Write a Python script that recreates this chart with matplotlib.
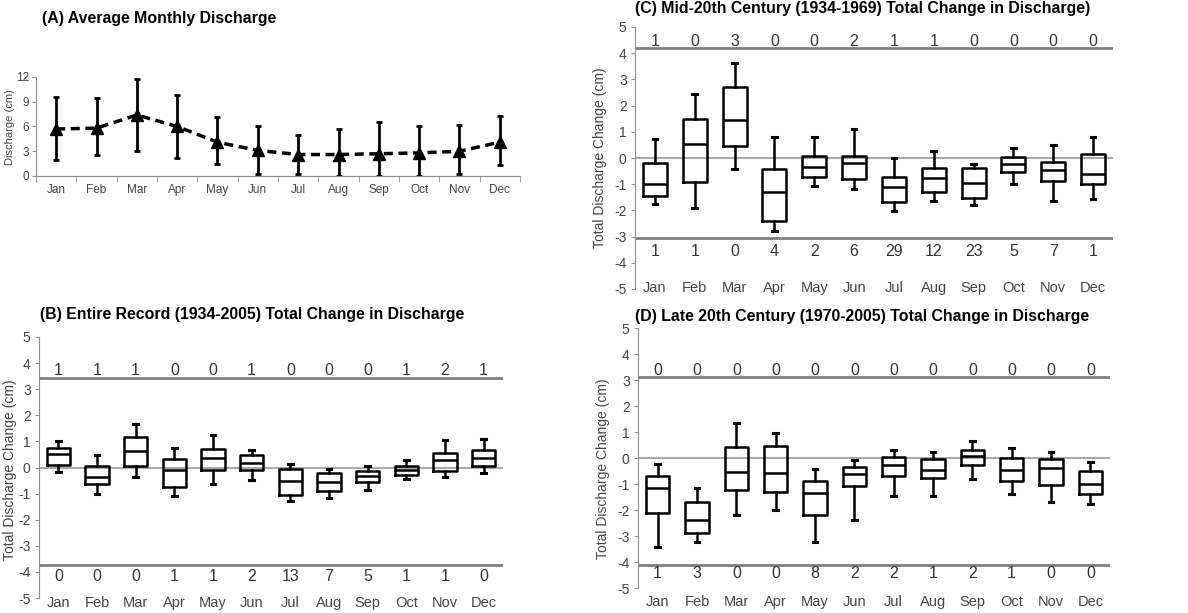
import matplotlib.pyplot as plt
import numpy as np

plt.rcParams['font.family'] = ['Liberation Sans', 'DejaVu Sans']
plt.rcParams['axes.unicode_minus'] = False

# Data
months = ['Jan', 'Feb', 'Mar', 'Apr', 'May', 'Jun', 'Jul', 'Aug', 'Sep', 'Oct', 'Nov', 'Dec']

# (A) average monthly discharge with error bars (cm)
a_mean = [5.7, 5.8, 7.4, 6.0, 4.1, 3.1, 2.6, 2.6, 2.7, 2.8, 3.0, 4.1]
a_upper = [9.6, 9.4, 11.8, 9.8, 7.2, 6.0, 5.0, 5.7, 6.5, 6.1, 6.2, 7.3]
a_lower = [1.9, 2.5, 3.0, 2.2, 1.4, 0.3, 0.2, 0.0, 0.0, 0.0, 0.2, 1.3]

# (B) entire record 1934-2005
b_low = [-0.18, -1.00, -0.38, -1.11, -0.65, -0.48, -1.27, -1.15, -0.86, -0.44, -0.37, -0.22]
b_q1 = [0.10, -0.63, 0.04, -0.76, -0.09, -0.09, -1.04, -0.90, -0.54, -0.29, -0.13, 0.04]
b_med = [0.52, -0.37, 0.63, -0.09, 0.38, 0.19, -0.52, -0.54, -0.34, -0.09, 0.28, 0.36]
b_q3 = [0.76, 0.04, 1.15, 0.32, 0.70, 0.47, -0.05, -0.20, -0.13, 0.05, 0.55, 0.66]
b_high = [1.01, 0.49, 1.65, 0.76, 1.24, 0.68, 0.15, -0.06, 0.04, 0.30, 1.06, 1.10]
b_above = [1, 1, 1, 0, 0, 1, 0, 0, 0, 1, 2, 1]
b_below = [0, 0, 0, 1, 1, 2, 13, 7, 5, 1, 1, 0]

# (C) mid-20th century 1934-1969
c_low = [-1.75, -1.89, -0.43, -2.80, -1.05, -1.17, -2.02, -1.65, -1.79, -1.01, -1.66, -1.55]
c_q1 = [-1.44, -0.90, 0.45, -2.40, -0.72, -0.79, -1.69, -1.30, -1.54, -0.55, -0.89, -0.99]
c_med = [-1.00, 0.55, 1.45, -1.29, -0.35, -0.20, -1.10, -0.77, -0.97, -0.21, -0.47, -0.60]
c_q3 = [-0.18, 1.50, 2.71, -0.42, 0.08, 0.09, -0.73, -0.38, -0.39, 0.04, -0.14, 0.15]
c_high = [0.72, 2.46, 3.63, 0.82, 0.79, 1.11, 0.01, 0.25, -0.24, 0.39, 0.48, 0.81]
c_above = [1, 0, 3, 0, 0, 2, 1, 1, 0, 0, 0, 0]
c_below = [1, 1, 0, 4, 2, 6, 29, 12, 23, 5, 7, 1]

# (D) late 20th century 1970-2005
d_low = [-3.43, -3.24, -2.19, -2.00, -3.24, -2.38, -1.48, -1.48, -0.82, -1.40, -1.70, -1.78]
d_q1 = [-2.12, -2.89, -1.23, -1.29, -2.20, -1.09, -0.69, -0.78, -0.26, -0.88, -1.05, -1.38]
d_med = [-1.15, -2.37, -0.55, -0.58, -1.36, -0.63, -0.26, -0.46, 0.09, -0.45, -0.37, -1.00]
d_q3 = [-0.71, -1.71, 0.42, 0.45, -0.87, -0.34, 0.05, -0.05, 0.30, 0.01, -0.04, -0.49]
d_high = [-0.24, -1.17, 1.33, 0.95, -0.42, -0.08, 0.30, 0.25, 0.66, 0.38, 0.24, -0.17]
d_above = [0, 0, 0, 0, 0, 0, 0, 0, 0, 0, 0, 0]
d_below = [1, 3, 0, 0, 8, 2, 2, 1, 2, 1, 0, 0]

W, H = 1188, 613
fig = plt.figure(figsize=(W / 100, H / 100), dpi=100)
fig.patch.set_facecolor('white')

axis_grey = '#8c8c8c'
text_grey = '#444444'


def px_axes(left, top, right, bottom):
    return fig.add_axes([left / W, 1 - bottom / H, (right - left) / W, (bottom - top) / H])


x = np.arange(len(months))

# ---- Panel A
ax = px_axes(36, 77, 520, 176)
err = [np.array(a_mean) - np.array(a_lower), np.array(a_upper) - np.array(a_mean)]
ax.errorbar(x, a_mean, yerr=err, fmt='none', ecolor='black', elinewidth=2, capsize=2.5, capthick=2)
ax.plot(x, a_mean, color='black', lw=2.5, dashes=(2.6, 1.6), marker='^', ms=9)
ax.set_xlim(-0.5, 11.5)
ax.set_ylim(0, 12)
ax.set_yticks([0, 3, 6, 9, 12])
ax.set_xticks(x)
ax.set_xticklabels(months)
ax.set_xticks(np.arange(-0.5, 12, 1), minor=True)
for s in ['top', 'right']:
    ax.spines[s].set_visible(False)
for s in ['left', 'bottom']:
    ax.spines[s].set_color(axis_grey)
ax.tick_params(axis='x', which='major', length=0, labelsize=8.5, labelcolor=text_grey, pad=6)
ax.tick_params(axis='x', which='minor', length=4, color=axis_grey)
ax.tick_params(axis='y', length=3, color=axis_grey, labelsize=8.5, labelcolor=text_grey, pad=2)
ax.set_ylabel('Discharge (cm)', fontsize=8, color=text_grey)
ax.yaxis.set_label_coords(-0.043, 0.49)
fig.text(42 / W, 1 - 19 / H, '(A) Average Monthly Discharge', fontsize=11.4, fontweight='bold',
         va='center', ha='left')


# ---- Box panels
def box_panel(ax, low, q1, med, q3, high, above, below, top_line, bot_line, top_y, bot_y, lab_pad,
              ylab_x, ylab_y):
    stats = []
    for i in range(len(months)):
        stats.append(dict(whislo=low[i], q1=q1[i], med=med[i], q3=q3[i], whishi=high[i], fliers=[]))
    lp = dict(color='black', lw=1.8)
    ax.bxp(stats, positions=x, widths=0.6, showfliers=False, boxprops=lp, medianprops=lp,
           whiskerprops=lp, capprops=dict(color='black', lw=2.2), capwidths=0.12)
    ax.axhline(0, color='#a0a0a0', lw=1.3, zorder=0)
    ax.axhline(top_line, color='#7f7f7f', lw=2, zorder=0)
    ax.axhline(bot_line, color='#7f7f7f', lw=2, zorder=0)
    for i in range(len(months)):
        ax.text(x[i], top_y, str(above[i]), ha='center', va='center', fontsize=11.5, color='#333333')
        ax.text(x[i], bot_y, str(below[i]), ha='center', va='center', fontsize=11.5, color='#333333')
    ax.set_xlim(-0.5, 11.5)
    ax.set_ylim(-5, 5)
    ax.set_yticks(range(-5, 6))
    ax.set_xticks(x)
    ax.set_xticklabels(months)
    for s in ['top', 'right', 'bottom']:
        ax.spines[s].set_visible(False)
    ax.spines['left'].set_color(axis_grey)
    ax.tick_params(axis='x', length=0, labelsize=10.5, labelcolor=text_grey, pad=lab_pad)
    ax.tick_params(axis='y', length=3, color=axis_grey, labelsize=10, labelcolor=text_grey, pad=3)
    ax.set_ylabel('Total Discharge Change (cm)', fontsize=10, color=text_grey)
    ax.yaxis.set_label_coords(ylab_x, ylab_y)


ax_b = px_axes(39, 337, 503, 598)
box_panel(ax_b, b_low, b_q1, b_med, b_q3, b_high, b_above, b_below, 3.41, -3.72, 3.72, -4.17, -1.5,
          -0.047, 0.49)
fig.text(40 / W, 1 - 315 / H, '(B) Entire Record (1934-2005) Total Change in Discharge', fontsize=11.4,
         fontweight='bold', va='center', ha='left')

ax_c = px_axes(635, 27, 1113, 289)
box_panel(ax_c, c_low, c_q1, c_med, c_q3, c_high, c_above, c_below, 4.2, -3.05, 4.45, -3.55, -5.5,
          -0.059, 0.5)
fig.text(635 / W, 1 - 9 / H, '(C) Mid-20th Century (1934-1969) Total Change in Discharge)', fontsize=11.4,
         fontweight='bold', va='center', ha='left')

ax_d = px_axes(638, 328, 1110, 588)
box_panel(ax_d, d_low, d_q1, d_med, d_q3, d_high, d_above, d_below, 3.12, -4.13, 3.38, -4.46, 5,
          -0.059, 0.46)
fig.text(635 / W, 1 - 317 / H, '(D) Late 20th Century (1970-2005) Total Change in Discharge', fontsize=11.4,
         fontweight='bold', va='center', ha='left')

fig.savefig('out.png', dpi=100)
